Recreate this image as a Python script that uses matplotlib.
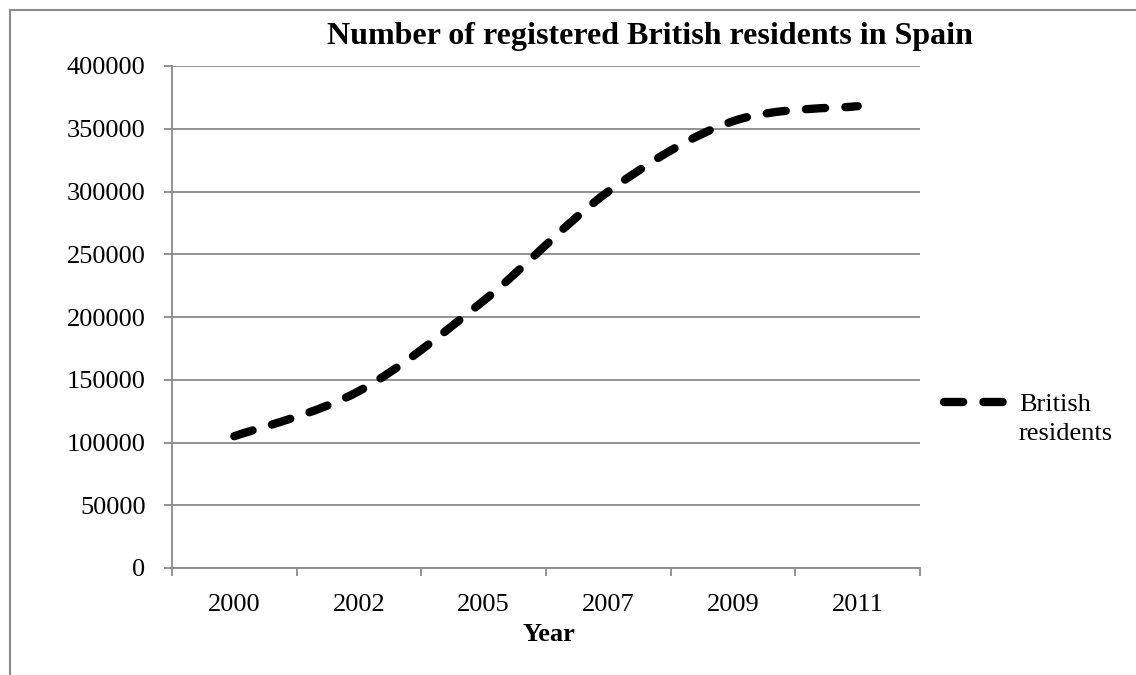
import matplotlib
matplotlib.use('Agg')
import matplotlib.pyplot as plt
from matplotlib.path import Path
from matplotlib.patches import PathPatch
from matplotlib.lines import Line2D
import numpy as np

# data
years = ['2000', '2002', '2005', '2007', '2009', '2011']
residents = [105000, 141000, 213000, 300000, 356000, 368000]
series_name = ['British', 'residents']
yticks = np.arange(0, 400001, 50000)

plt.rcParams['font.family'] = ['Liberation Serif', 'DejaVu Serif']
plt.rcParams['lines.scale_dashes'] = False

W, H = 1136, 675
grey = '#8a8a8a'
lw = 6.0
dash = (0, (13.8, 14.6))


def smooth_path(xs, ys):
    # excel style smoothed line: cubic bezier through every point
    pts = np.column_stack([xs, ys]).astype(float)
    ext = np.vstack([pts[0], pts, pts[-1]])
    verts = [tuple(pts[0])]
    codes = [Path.MOVETO]
    for i in range(1, len(ext) - 2):
        p0, p1, p2, p3 = ext[i - 1], ext[i], ext[i + 1], ext[i + 2]
        c1 = p1 + (p2 - p0) / 6.0
        c2 = p2 - (p3 - p1) / 6.0
        verts += [tuple(c1), tuple(c2), tuple(p2)]
        codes += [Path.CURVE4] * 3
    return Path(verts, codes)


fig = plt.figure(figsize=(W / 100, H / 100), dpi=100, facecolor='w')
ax = fig.add_axes([172 / W, 1 - 568 / H, (920 - 172) / W, (568 - 66) / H])

xs = np.arange(len(years))
patch = PathPatch(smooth_path(xs, residents), facecolor='none', edgecolor='black',
                  linewidth=lw, linestyle=dash, capstyle='round', joinstyle='round', zorder=3)
ax.add_patch(patch)

ax.set_xlim(-0.5, len(years) - 0.5)
ax.set_ylim(0, 400000)
ax.set_yticks(yticks)
ax.set_yticklabels([str(v) for v in yticks])
ax.set_xticks(np.arange(-0.5, len(years), 1.0))
ax.set_xticklabels([])
ax.set_xticks(xs, minor=True)
ax.set_xticklabels(years, minor=True)
ax.tick_params(axis='x', which='minor', length=0, pad=18.5, labelsize=19)
ax.tick_params(axis='x', which='major', length=5.5, width=1.3, color=grey, direction='out')
ax.tick_params(axis='y', length=5.5, width=1.3, color=grey, direction='out', labelsize=19, pad=13.5)
ax.yaxis.grid(True, color=grey, linewidth=1.3)
ax.set_axisbelow(True)
for s in ['top', 'right']:
    ax.spines[s].set_visible(False)
for s in ['left', 'bottom']:
    ax.spines[s].set_color(grey)
    ax.spines[s].set_linewidth(1.3)

fig.text(650 / W, 1 - 44 / H, 'Number of registered British residents in Spain',
         ha='center', va='baseline', fontsize=23, fontweight='bold')
fig.text(549 / W, 1 - 641 / H, 'Year', ha='center', va='baseline',
         fontsize=19, fontweight='bold')

# legend drawn by hand: handle lines up with the first line of the label
half = lw / 0.72 / 2
fig.add_artist(Line2D([(940 + half) / W, (1008 - half) / W], [1 - 402 / H, 1 - 402 / H],
                      color='black', linewidth=lw, linestyle=dash, dash_capstyle='round',
                      transform=fig.transFigure))
fig.text(1019 / W, 1 - 411 / H, series_name[0], ha='left', va='baseline', fontsize=19)
fig.text(1019 / W, 1 - 440 / H, series_name[1], ha='left', va='baseline', fontsize=19)

# chart area border (left and top edges visible)
fig.add_artist(Line2D([9.5 / W, 9.5 / W], [0, 1 - 10 / H], color=grey, linewidth=1.5,
                      transform=fig.transFigure))
fig.add_artist(Line2D([9.5 / W, 1], [1 - 10 / H, 1 - 10 / H], color=grey, linewidth=1.5,
                      transform=fig.transFigure))

fig.savefig('out.png', dpi=100)
